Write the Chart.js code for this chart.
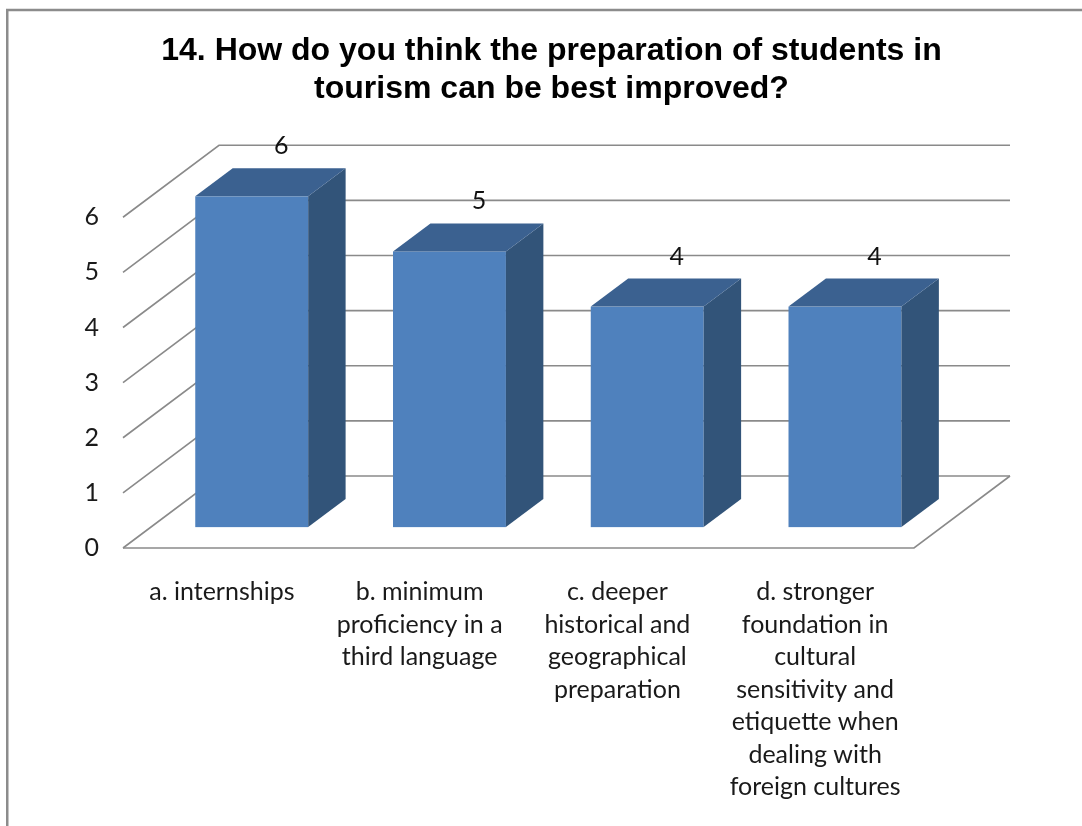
<!DOCTYPE html>
<html>
<head>
<meta charset="utf-8">
<script src="https://cdn.jsdelivr.net/npm/chart.js@4.4.1/dist/chart.umd.min.js"></script>
<style>
  html, body { margin: 0; padding: 0; background: #ffffff; }
  #wrap { width: 1082px; height: 826px; }
</style>
</head>
<body>
<div id="wrap"><canvas id="c" width="1082" height="826"></canvas></div>
<script>
// Survey question and answers
const titleLines = ['14. How do you think the preparation of students in', 'tourism can be best improved?'];
const categories = [
  ['a. internships'],
  ['b. minimum', 'proficiency in a', 'third language'],
  ['c. deeper', 'historical and', 'geographical', 'preparation'],
  ['d. stronger', 'foundation in', 'cultural', 'sensitivity and', 'etiquette when', 'dealing with', 'foreign cultures']
];
const responses = [6, 5, 4, 4];
const yTicks = [0, 1, 2, 3, 4, 5, 6];

// Oblique projection of the 3D box: depth vector of the walls,
// where each column starts in depth and how deep it is
const DEPTH_X = 96, DEPTH_Y = -72;
const COL_FRONT = 0.29, COL_DEPTH = 0.39;
const GRID_COLOR = '#8a8a8a';
const FACE = '#4F81BD', SIDE = '#325479', TOP = '#3B6190';
const LABEL_FONT = '25px Lato, "DejaVu Sans", sans-serif';

const frame = {
  id: 'frame',
  beforeDraw(chart) {
    const ctx = chart.ctx;
    ctx.save();
    ctx.fillStyle = '#ffffff';
    ctx.fillRect(0, 0, chart.width, chart.height);
    ctx.strokeStyle = '#8c8c8c';
    ctx.lineWidth = 2.5;
    ctx.beginPath();
    ctx.moveTo(7.25, chart.height);
    ctx.lineTo(7.25, 10);
    ctx.lineTo(chart.width, 10);
    ctx.stroke();
    ctx.restore();
  }
};

const box3d = {
  id: 'box3d',
  beforeDatasetsDraw(chart) {
    const ctx = chart.ctx;
    const ys = chart.scales.y;
    const L = chart.chartArea.left, R = chart.chartArea.right;
    ctx.save();
    ctx.strokeStyle = GRID_COLOR;
    ctx.lineWidth = 1.6;
    ctx.lineJoin = 'miter';
    // side wall and back wall gridlines
    yTicks.forEach(v => {
      const py = ys.getPixelForValue(v);
      ctx.beginPath();
      ctx.moveTo(L, py);
      ctx.lineTo(L + DEPTH_X, py + DEPTH_Y);
      ctx.lineTo(R + DEPTH_X, py + DEPTH_Y);
      ctx.stroke();
    });
    // floor outline
    const p0 = ys.getPixelForValue(0);
    ctx.beginPath();
    ctx.moveTo(L, p0);
    ctx.lineTo(R, p0);
    ctx.lineTo(R + DEPTH_X, p0 + DEPTH_Y);
    ctx.stroke();
    ctx.restore();
  },
  afterDatasetsDraw(chart) {
    const ctx = chart.ctx;
    const meta = chart.getDatasetMeta(0);
    const fx = COL_FRONT * DEPTH_X, fy = COL_FRONT * DEPTH_Y;
    const bx = COL_DEPTH * DEPTH_X, by = COL_DEPTH * DEPTH_Y;
    ctx.save();
    meta.data.forEach((el, i) => {
      const p = el.getProps(['x', 'y', 'base', 'width'], true);
      const left = p.x - p.width / 2 + fx + 2, right = p.x + p.width / 2 + fx + 2;
      const top = p.y + fy, bottom = p.base + fy;
      // front face
      ctx.fillStyle = FACE;
      ctx.fillRect(left, top, right - left, bottom - top);
      // right side face
      ctx.fillStyle = SIDE;
      ctx.beginPath();
      ctx.moveTo(right, top);
      ctx.lineTo(right + bx, top + by);
      ctx.lineTo(right + bx, bottom + by);
      ctx.lineTo(right, bottom);
      ctx.closePath();
      ctx.fill();
      // top face
      ctx.fillStyle = TOP;
      ctx.beginPath();
      ctx.moveTo(left, top);
      ctx.lineTo(left + bx, top + by);
      ctx.lineTo(right + bx, top + by);
      ctx.lineTo(right, top);
      ctx.closePath();
      ctx.fill();
      // value label
      ctx.fillStyle = '#111111';
      ctx.font = LABEL_FONT;
      ctx.textAlign = 'center';
      ctx.textBaseline = 'middle';
      const v = chart.data.datasets[0].data[i];
      ctx.fillText(String(v), (left + right) / 2 + bx - 8, top + by - 22);
    });
    ctx.restore();
  }
};

new Chart(document.getElementById('c'), {
  type: 'bar',
  data: {
    labels: categories,
    datasets: [{
      data: responses,
      backgroundColor: 'rgba(0,0,0,0)',
      borderWidth: 0,
      categoryPercentage: 1,
      barPercentage: 0.571
    }]
  },
  plugins: [frame, box3d],
  options: {
    responsive: false,
    animation: false,
    devicePixelRatio: 1,
    layout: { padding: { left: 21, right: 0, top: 0, bottom: 0 } },
    plugins: {
      legend: { display: false },
      tooltip: { enabled: false },
      title: {
        display: true,
        text: titleLines,
        color: '#000000',
        font: { family: '"Liberation Sans", Arial, sans-serif', size: 32, weight: 'bold', lineHeight: 1.16 },
        padding: { top: 33, bottom: 110 }
      }
    },
    scales: {
      x: {
        grid: { display: false, drawTicks: false },
        border: { display: false },
        ticks: {
          color: '#1a1a1a',
          padding: 28,
          maxRotation: 0,
          autoSkip: false,
          font: { family: 'Lato, "DejaVu Sans", sans-serif', size: 25, lineHeight: 1.3 }
        },
        afterFit(s) { s.height = 278; }
      },
      y: {
        min: 0,
        max: 6,
        grid: { display: false, drawTicks: false },
        border: { display: false },
        ticks: {
          stepSize: 1,
          color: '#1a1a1a',
          padding: 24,
          font: { family: 'Lato, "DejaVu Sans", sans-serif', size: 25 }
        },
        afterFit(s) { s.width = 102; }
      },
      yRight: {
        position: 'right',
        min: 0,
        max: 6,
        grid: { display: false, drawTicks: false },
        border: { display: false },
        ticks: { display: false },
        afterFit(s) { s.width = 168; }
      }
    }
  }
});
</script>
</body>
</html>
